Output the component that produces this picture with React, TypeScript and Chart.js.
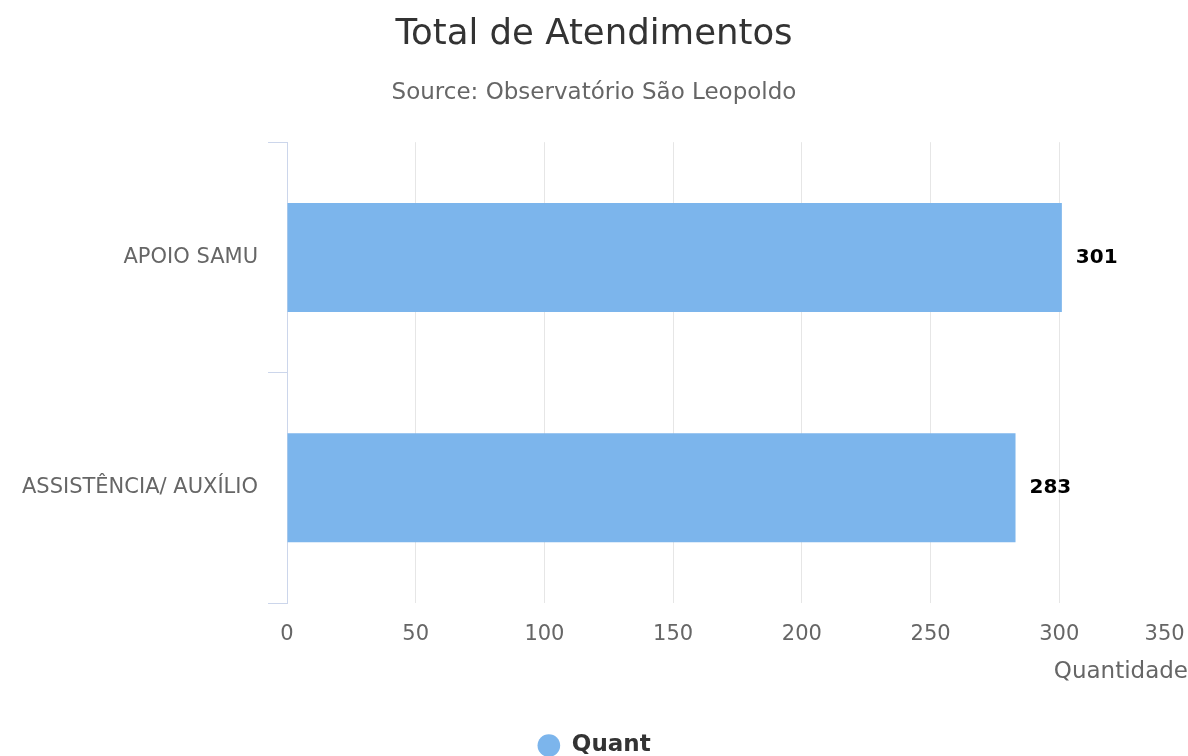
import React, { useEffect, useRef } from 'react';
import { Chart, registerables } from 'chart.js';

Chart.register(...registerables);

const titleText = 'Total de Atendimentos';
const subtitleText = 'Source: Observatório São Leopoldo';
const categories = ['APOIO SAMU', 'ASSISTÊNCIA/ AUXÍLIO'];
const seriesName = 'Quant';
const quantValues = [301, 283];
const xAxisTitle = 'Quantidade';
const xMin = 0;
const xMax = 350;
const xStep = 50;

const FONT = "'DejaVu Sans', Verdana, sans-serif";

const valueLabels = {
  id: 'valueLabels',
  afterDatasetsDraw(chart: any) {
    const { ctx } = chart;
    const meta = chart.getDatasetMeta(0);
    const data = chart.data.datasets[0].data;
    ctx.save();
    ctx.font = `bold 20px ${FONT}`;
    ctx.fillStyle = '#000000';
    ctx.textBaseline = 'middle';
    ctx.textAlign = 'left';
    meta.data.forEach((bar: any, i: number) => {
      ctx.fillText(String(data[i]), bar.x + 14, bar.y);
    });
    ctx.restore();
  },
};

export default function App() {
  const canvasRef = useRef<HTMLCanvasElement | null>(null);

  useEffect(() => {
    if (!canvasRef.current) return;
    const chart = new Chart(canvasRef.current, {
      type: 'bar',
      data: {
        labels: categories,
        datasets: [
          {
            label: seriesName,
            data: quantValues,
            backgroundColor: '#7cb5ec',
            borderWidth: 0,
            barPercentage: 0.473,
            categoryPercentage: 1,
          },
        ],
      },
      options: {
        indexAxis: 'y',
        animation: false,
        responsive: false,
        maintainAspectRatio: false,
        layout: { padding: { top: 0, left: 0, right: 0, bottom: -11 } },
        plugins: {
          title: {
            display: true,
            text: titleText,
            color: '#333333',
            font: { family: FONT, size: 35.5, weight: 'normal' },
            padding: { top: 13, bottom: 0 },
          },
          subtitle: {
            display: true,
            text: subtitleText,
            color: '#666666',
            font: { family: FONT, size: 23, weight: 'normal' },
            padding: { top: 24, bottom: 35 },
          },
          legend: {
            display: true,
            position: 'bottom',
            labels: {
              usePointStyle: true,
              pointStyle: 'circle',
              boxHeight: 16,
              padding: 0,
              color: '#333333',
              font: { family: FONT, size: 23, weight: 'bold' },
            },
          },
          tooltip: { enabled: false },
        },
        scales: {
          x: {
            type: 'linear',
            position: 'bottom',
            min: xMin,
            max: xMax,
            ticks: {
              stepSize: xStep,
              autoSkip: false,
              maxRotation: 0,
              padding: 19,
              color: '#666666',
              font: { family: FONT, size: 21 },
              callback: (v: any) => (Number(v) === xMax ? String(v) + '       ' : String(v)),
            },
            grid: {
              color: (c: any) => (c.index === 0 ? 'rgba(0,0,0,0)' : '#e6e6e6'),
              drawTicks: false,
              lineWidth: 1,
            },
            border: { display: false },
            title: {
              display: true,
              text: xAxisTitle,
              align: 'end',
              color: '#666666',
              font: { family: FONT, size: 23 },
              padding: { top: 0, bottom: 48 },
            },
            afterFit: (scale: any) => {
              scale.height = 131;
              scale.paddingLeft = 0;
              scale.paddingRight = 0;
            },
          },
          y: {
            type: 'category',
            position: 'left',
            ticks: {
              padding: 10,
              color: '#666666',
              font: { family: FONT, size: 21 },
            },
            grid: {
              offset: true,
              drawOnChartArea: false,
              drawTicks: true,
              tickLength: 19,
              color: '#ccd6eb',
            },
            border: { display: true, color: '#ccd6eb' },
            afterFit: (scale: any) => {
              scale.width = 287;
              scale.paddingTop = 0;
              scale.paddingBottom = 0;
            },
          },
        },
      } as any,
      plugins: [valueLabels],
    });
    return () => chart.destroy();
  }, []);

  return (
    <div style={{ position: 'fixed', left: 0, top: 0, width: 1188, height: 756, background: '#ffffff' }}>
      <canvas ref={canvasRef} width={1188} height={756} style={{ display: 'block' }} />
    </div>
  );
}
